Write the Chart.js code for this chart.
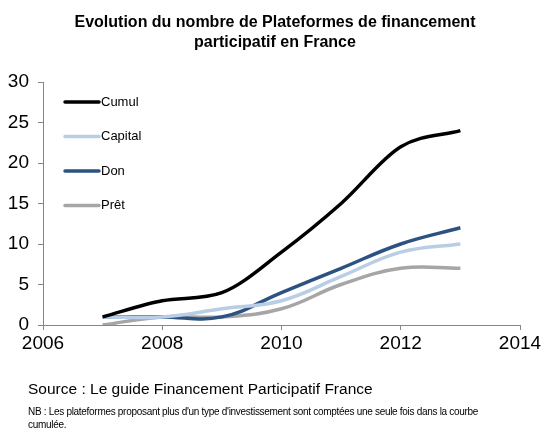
<!DOCTYPE html>
<html lang="fr">
<head>
<meta charset="utf-8">
<title>Plateformes de financement participatif</title>
<script src="https://cdn.jsdelivr.net/npm/chart.js@4/dist/chart.umd.min.js"></script>
<style>
  html, body { margin: 0; padding: 0; background: #fff; }
  body { width: 550px; height: 446px; position: relative; overflow: hidden;
         font-family: "Liberation Sans", Arial, sans-serif; color: #000; }
  #title  { position: absolute; left: 0; top: 12px; width: 550px; text-align: center;
            font-weight: bold; font-size: 16px; line-height: 20px; }
  #source { position: absolute; left: 28px; top: 380px; font-size: 15.5px; }
  #nb     { position: absolute; left: 28px; top: 405px; width: 470px;
            font-size: 10px; line-height: 13px; letter-spacing: -0.3px; }
  #wrap   { position: absolute; left: 0; top: 0; width: 550px; height: 446px; }
</style>
</head>
<body>
<div id="wrap"><canvas id="chart"></canvas></div>
<div id="title">Evolution du nombre de Plateformes de financement<br>participatif en France</div>
<div id="source">Source : Le guide Financement Participatif France</div>
<div id="nb">NB : Les plateformes proposant plus d'un type d'investissement sont comptées une seule fois dans la courbe cumulée.</div>

<script>
'use strict';

// ── Data ──────────────────────────────────────────────
const years   = [2007, 2008, 2009, 2010, 2011, 2012, 2013];
const cumul   = [1, 3, 4, 9, 15, 22, 24];
const capital = [1, 1, 2, 3, 6, 9, 10];
const don     = [1, 1, 1, 4, 7, 10, 12];
const pret    = [0, 1, 1, 2, 5, 7, 7];

const xTicks = [2006, 2008, 2010, 2012, 2014];
const yTicks = [0, 5, 10, 15, 20, 25, 30];

const series = [
  { label: 'Cumul',   values: cumul,   color: '#000000', mode: 'monotone' },
  { label: 'Capital', values: capital, color: '#b9cde5', mode: 'default' },
  { label: 'Don',     values: don,     color: '#2c5282', mode: 'default' },
  { label: 'Prêt',    values: pret,    color: '#a6a6a6', mode: 'default' },
];

// ── Legend drawn inside the plot area ─────────────────
const innerLegend = {
  id: 'innerLegend',
  afterDraw(c) {
    const ctx = c.ctx;
    const x0 = c.chartArea.left + 22;
    let y = c.chartArea.top + 20;
    ctx.save();
    ctx.font = '13px "Liberation Sans", Arial, sans-serif';
    ctx.textBaseline = 'middle';
    c.data.datasets.forEach(ds => {
      ctx.strokeStyle = ds.borderColor;
      ctx.lineWidth = ds.borderWidth;
      ctx.lineCap = 'round';
      ctx.beginPath();
      ctx.moveTo(x0, y);
      ctx.lineTo(x0 + 34, y);
      ctx.stroke();
      ctx.fillStyle = '#000';
      ctx.fillText(ds.label, x0 + 36, y);
      y += 34.5;
    });
    ctx.restore();
  },
};

// ── Chart ─────────────────────────────────────────────
const tickFont = { family: '"Liberation Sans", Arial, sans-serif', size: 19 };

new Chart(document.getElementById('chart'), {
  type: 'line',
  data: {
    datasets: series.map(s => ({
      label: s.label,
      data: years.map((yr, i) => ({ x: yr, y: s.values[i] })),
      borderColor: s.color,
      backgroundColor: s.color,
      borderWidth: 3.5,
      pointRadius: 0,
      tension: 0.4,
      cubicInterpolationMode: s.mode,
      fill: false,
    })),
  },
  options: {
    responsive: true,
    maintainAspectRatio: false,
    animation: false,
    layout: { padding: { top: 82, right: 30, left: 0, bottom: 0 } },
    plugins: { legend: { display: false }, tooltip: { enabled: false } },
    scales: {
      x: {
        type: 'linear',
        min: 2006, max: 2014,
        afterBuildTicks: ax => { ax.ticks = xTicks.map(v => ({ value: v })); },
        afterFit: ax => { ax.height = 121; },
        border: { color: '#868686', width: 1 },
        grid: { drawOnChartArea: false, color: '#868686', tickLength: 5 },
        ticks: { color: '#000', font: tickFont, padding: 2, maxRotation: 0,
                 callback: v => String(v) },
      },
      y: {
        min: 0, max: 30,
        afterBuildTicks: ax => { ax.ticks = yTicks.map(v => ({ value: v })); },
        afterFit: ax => { ax.width = 43; },
        border: { color: '#868686', width: 1 },
        grid: { drawOnChartArea: false, color: '#868686', tickLength: 5 },
        ticks: { color: '#000', font: tickFont, padding: 9 },
      },
    },
  },
  plugins: [innerLegend],
});
</script>
</body>
</html>
